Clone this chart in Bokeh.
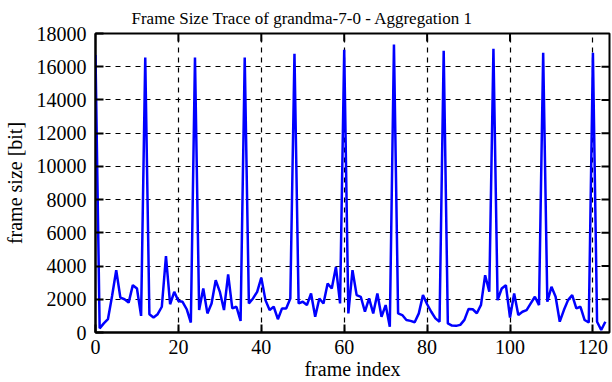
from bokeh.plotting import figure
from bokeh.models import Range1d, FixedTicker
from bokeh.embed import file_html
from bokeh.resources import INLINE

frame_size = [
    16700, 250, 550, 800, 2200, 3750, 2100, 2000, 1800, 2850, 2650, 1000,
    16550, 1100, 900, 1100, 1550, 4600, 1700, 2450, 1900, 1850, 1400, 600,
    16550, 1350, 2650, 1150, 1750, 3150, 2450, 1350, 3500, 1450, 1550, 700,
    16550, 1750, 2050, 2450, 3300, 1950, 1350, 1550, 800, 1450, 1450, 2050,
    16780, 1750, 1850, 1650, 2350, 950, 2050, 1750, 2950, 2650, 3950, 1750,
    17020, 1150, 3750, 2250, 2150, 1250, 2050, 1150, 2350, 950, 1650, 350,
    17340, 1150, 1050, 750, 700, 620, 1150, 2250, 1700, 1250, 850, 650,
    16960, 550, 420, 400, 460, 760, 1420, 1400, 1160, 1660, 3450, 2450,
    17080, 1950, 2650, 2850, 900, 2350, 1050, 1250, 1350, 1750, 2150, 1650,
    16840, 1850, 2750, 2150, 650, 1350, 1950, 2250, 1450, 1550, 750, 600,
    16840, 650, 150, 650,
]
frame_index = list(range(len(frame_size)))
x_ticks = [0, 20, 40, 60, 80, 100, 120]
y_ticks = [0, 2000, 4000, 6000, 8000, 10000, 12000, 14000, 16000, 18000]
x_max = 124
y_max = 18000

FONT = "Liberation Serif"

p = figure(width=612, height=382, output_backend="svg", toolbar_location=None,
           x_range=Range1d(0, x_max), y_range=Range1d(0, y_max),
           title="Frame Size Trace of grandma-7-0 - Aggregation 1",
           min_border_left=92, min_border_right=3, min_border_top=33, min_border_bottom=50)

p.title.align = "left"
p.title.offset = 36
p.title.standoff = 12
p.title.text_font = FONT
p.title.text_font_size = "17px"
p.title.text_font_style = "normal"
p.title.text_color = "black"

p.line(frame_index, frame_size, line_color="#0000ff", line_width=2.5)

# mirrored tick marks on the top and right borders (gnuplot style)
tick_len_y = y_max * 8 / 299.0
tick_len_x = x_max * 8 / 517.0
p.segment(x0=x_ticks[1:-1], y0=[y_max] * (len(x_ticks) - 2),
          x1=x_ticks[1:-1], y1=[y_max - tick_len_y] * (len(x_ticks) - 2),
          line_color="black", line_width=2)
p.segment(x0=[x_max] * (len(y_ticks) - 2), y0=y_ticks[1:-1],
          x1=[x_max - tick_len_x] * (len(y_ticks) - 2), y1=y_ticks[1:-1],
          line_color="black", line_width=2)

p.outline_line_color = "black"
p.outline_line_width = 2
p.outline_line_alpha = 1

for ax in (p.xaxis[0], p.yaxis[0]):
    ax.axis_line_width = 2
    ax.major_tick_in = 8
    ax.major_tick_out = 0
    ax.major_tick_line_width = 2
    ax.minor_tick_line_color = None
    ax.major_label_text_font = FONT
    ax.major_label_text_font_size = "20px"
    ax.major_label_text_color = "black"
    ax.axis_label_text_font = FONT
    ax.axis_label_text_font_size = "20px"
    ax.axis_label_text_font_style = "normal"
    ax.axis_label_text_color = "black"

p.xaxis[0].ticker = FixedTicker(ticks=x_ticks)
p.yaxis[0].ticker = FixedTicker(ticks=y_ticks)
p.xaxis[0].axis_label = "frame index"
p.yaxis[0].axis_label = "frame size [bit]"
p.xaxis[0].major_label_standoff = 7
p.yaxis[0].major_label_standoff = 9
p.xaxis[0].axis_label_standoff = 1
p.yaxis[0].axis_label_standoff = 8

p.xgrid.ticker = FixedTicker(ticks=x_ticks)
p.ygrid.ticker = FixedTicker(ticks=y_ticks)
for g in (p.xgrid[0], p.ygrid[0]):
    g.grid_line_color = "black"
    g.grid_line_dash = "5 5"
    g.grid_line_width = 1.2
    g.grid_line_alpha = 1

open("out.html", "w").write(file_html(p, INLINE))
